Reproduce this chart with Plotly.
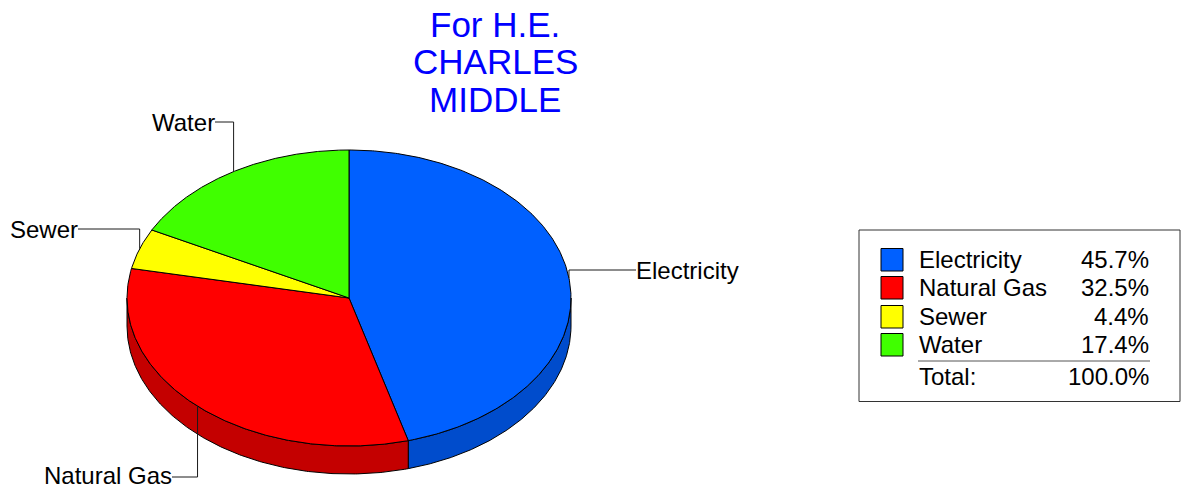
import numpy as np
import plotly.graph_objects as go

categories = ["Electricity", "Natural Gas", "Sewer", "Water"]
values = [45.7, 32.5, 4.4, 17.4]
total_label = "100.0%"
title_lines = ["For H.E.", "CHARLES", "MIDDLE"]
colors = ["#0060FF", "#FF0000", "#FFFF00", "#40FF00"]
side_colors = ["#004CCC", "#C40000", "#CCCC00", "#33CC00"]

W, H = 1182, 489
CX, CY, RX, RY, DEPTH = 349, 298, 222, 148, 28
FONT = "Liberation Sans, Arial, sans-serif"


def pt(deg, dy=0.0):
    a = np.radians(deg)
    return CX + RX * np.sin(a), CY - RY * np.cos(a) + dy


fractions = np.array(values) / sum(values)
edges = np.concatenate([[0.0], np.cumsum(fractions)]) * 360.0

fig = go.Figure()

# side wall: visible only on the front half of the ellipse (90..270 degrees)
for i in range(len(values)):
    lo, hi = max(edges[i], 90.0), min(edges[i + 1], 270.0)
    if hi <= lo:
        continue
    t = np.linspace(lo, hi, 200)
    x1, y1 = pt(t)
    x2, y2 = pt(t[::-1], DEPTH)
    fig.add_trace(go.Scatter(
        x=np.concatenate([x1, x2, x1[:1]]), y=np.concatenate([y1, y2, y1[:1]]),
        mode="lines", fill="toself", fillcolor=side_colors[i],
        line=dict(color="#000000", width=1), hoverinfo="skip", showlegend=False))

# top face
for i in range(len(values)):
    t = np.linspace(edges[i], edges[i + 1], 300)
    x, y = pt(t)
    fig.add_trace(go.Scatter(
        x=np.concatenate([[CX], x, [CX]]), y=np.concatenate([[CY], y, [CY]]),
        mode="lines", fill="toself", fillcolor=colors[i],
        line=dict(color="#000000", width=1), hoverinfo="skip", showlegend=False))

# leader lines from each slice's mid angle, elbow to its label
label_layout = {
    "Electricity": dict(end_x=636, end_y=270, tx=636, ty=270, anchor="left"),
    "Natural Gas": dict(end_x=172, end_y=477, tx=172, ty=475.5, anchor="right"),
    "Sewer": dict(end_x=78, end_y=229, tx=78, ty=229, anchor="right"),
    "Water": dict(end_x=215, end_y=122, tx=215, ty=122, anchor="right"),
}
annotations = []


def text(x, y, s, size=24, color="#000000", anchor="left", height=None):
    annotations.append(dict(x=x, y=y, xref="x", yref="y", text=s, showarrow=False,
                            xanchor=anchor, yanchor="middle", height=height,
                            font=dict(family=FONT, size=size, color=color),
                            borderpad=0, borderwidth=0))


for i, name in enumerate(categories):
    mid = (edges[i] + edges[i + 1]) / 2
    px, py = pt(mid)
    p = label_layout[name]
    fig.add_trace(go.Scatter(
        x=[px, px, p["end_x"]], y=[py, p["end_y"], p["end_y"]], mode="lines",
        line=dict(color="#1a1a1a", width=1), hoverinfo="skip", showlegend=False))
    text(p["tx"], p["ty"], name, anchor=p["anchor"])

# title
for s, y in zip(title_lines, [24, 61, 99.5]):
    text(495, y, s, size=35, color="#0000FF", anchor="center")

# legend panel
shapes = [dict(type="rect", x0=859, x1=1180, y0=230, y1=401.5, xref="x", yref="y",
               line=dict(color="#333333", width=1), fillcolor="#FFFFFF", layer="below")]
row_y = [260, 288, 317, 345]
for i, name in enumerate(categories):
    shapes.append(dict(type="rect", x0=881, x1=903, y0=row_y[i] - 11.5, y1=row_y[i] + 11,
                       xref="x", yref="y", line=dict(color="#000000", width=1),
                       fillcolor=colors[i]))
    text(918.5, row_y[i] - 0.5, name)
    text(1149, row_y[i] - 0.5, f"{values[i]:.1f}%", anchor="right")
shapes.append(dict(type="line", x0=918, x1=1150, y0=361, y1=361, xref="x", yref="y",
                   line=dict(color="#555555", width=1)))
text(918.5, 376.5, "Total:")
text(1149, 376.5, total_label, anchor="right")

fig.update_layout(
    width=W, height=H, margin=dict(l=0, r=0, t=0, b=0),
    paper_bgcolor="#FFFFFF", plot_bgcolor="#FFFFFF", showlegend=False,
    xaxis=dict(range=[0, W], visible=False, fixedrange=True),
    yaxis=dict(range=[H, 0], visible=False, fixedrange=True),
    shapes=shapes, annotations=annotations,
)
fig.write_html("out.html", config={"displayModeBar": False},
               post_script="document.body.style.margin='0';document.body.style.overflow='hidden';")
